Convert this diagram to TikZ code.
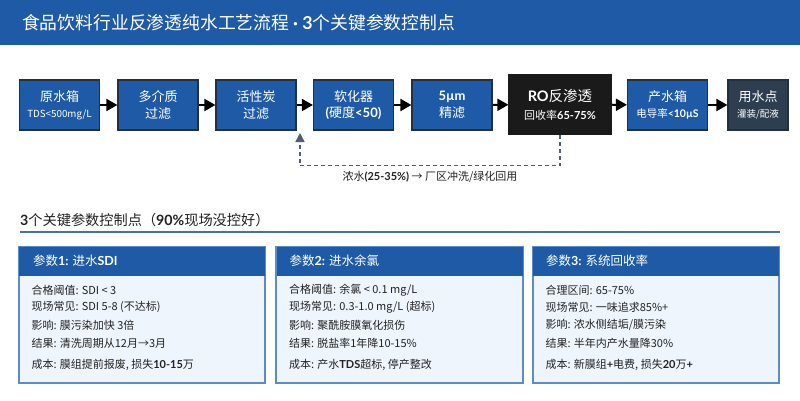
\documentclass[tikz,border=0pt]{standalone}
\usepackage{fontspec}
\setmainfont{Noto Sans CJK SC}
\newfontfamily\latinb{Lato}
\usetikzlibrary{arrows.meta,calc}
\definecolor{mainblue}{HTML}{1F5AA6}
\definecolor{boxedge}{HTML}{22303F}
\definecolor{rodark}{HTML}{1A1A1A}
\definecolor{useslate}{HTML}{2C3E50}
\definecolor{rejgray}{HTML}{4F5F6F}
\definecolor{cardedge}{HTML}{5A8BCB}
\definecolor{cardfill}{HTML}{EEF5FD}
\definecolor{inktxt}{HTML}{222222}
\newcommand{\latbf}[1]{{\latinb\bfseries #1}}
\newcommand{\fsz}[1]{\fontsize{#1}{#1}\selectfont}

\begin{document}
\begin{tikzpicture}[x=1pt,y=-1pt,
    stepbox/.style={draw=boxedge, line width=1.2pt, fill=mainblue, text=white, minimum width=80pt,
      minimum height=50pt, inner sep=0pt, align=center, font=\fontsize{13}{16.5}\selectfont},
    flow/.style={-{Triangle[length=11pt,width=12pt]}, line width=2pt, black},
    reject/.style={-{Triangle[length=9pt,width=9pt]}, line width=1.5pt, rejgray, dash pattern={on 4pt off 3pt}},
    card/.style={draw=cardedge, line width=1.4pt, fill=cardfill, minimum width=246pt, minimum height=136pt, inner sep=0pt},
    cardhead/.style={fill=mainblue, minimum width=246pt, minimum height=29pt, inner sep=0pt, anchor=north},
    headtxt/.style={anchor=west, text=white, inner sep=0pt, font=\fsz{12.5}},
    linetxt/.style={anchor=west, text=inktxt, inner sep=0pt, font=\fsz{11}}]
    \useasboundingbox (0,0) rectangle (800,400);
    \fill[white] (0,0) rectangle (800,400);
    % title band
    \fill[mainblue] (0,0) rectangle (800,45);
    \node[anchor=west, text=white, inner sep=0pt, font=\fsz{17.8}] (title) at (22,23) {食品饮料行业反渗透纯水工艺流程 \latbf{· 3}个关键参数控制点};
    % process chain
    \node[stepbox] (tank) at (59.5,105) {原水箱\\{\fsz{9.8}TDS<500mg/L}};
    \node[stepbox] (media) at (158,105) {多介质\\过滤};
    \node[stepbox] (carbon) at (256,105) {活性炭\\过滤};
    \node[stepbox] (soft) at (353.5,105) {软化器\\\latbf{(}硬度\latbf{<50)}};
    \node[stepbox] (fine) at (452,105) {\latbf{5µm}\\精滤};
    \node[stepbox, fill=rodark, draw=rodark, minimum width=102pt, minimum height=59pt, font=\fontsize{14.5}{18}\selectfont] (ro) at (560,104.5) {\latbf{RO}反渗透\\{\fsz{11}回收率\latbf{65-75\%}}};
    \node[stepbox] (prod) at (667.5,105) {产水箱\\{\fsz{10.5}电导率\latbf{<10µS}}};
    \node[stepbox, fill=useslate, minimum width=60pt] (use) at (758,105) {用水点\\{\fsz{9.5}灌装/配液}};
    \draw[flow] (tank) -- (media);
    \draw[flow] (media) -- (carbon);
    \draw[flow] (carbon) -- (soft);
    \draw[flow] (soft) -- (fine);
    \draw[flow] (fine) -- (ro);
    \draw[flow] (ro) -- (prod);
    \draw[flow] (prod) -- (use);
    % concentrate return
    \coordinate (ret) at (300,133);
    \draw[reject] (ro.south) -- ++(0,31) -| (ret);
    \node[text=inktxt, inner sep=0pt, font=\fsz{11}] (waste) at (430,177) {浓水\latbf{(25-35\%)} → 厂区冲洗/绿化回用};
    % section heading
    \node[anchor=west, text=inktxt, inner sep=0pt, font=\fsz{14.2}] (sect) at (20,220) {\latbf{3}个关键参数控制点（\latbf{90\%}现场没控好）};
    \draw[mainblue!85!white, line width=1.6pt] (20,232) -- (780,232);
    % parameter cards
    \node[card] (c1) at (142,315) {};
    \node[card] (c2) at (399.5,315) {};
    \node[card] (c3) at (656,315) {};
    \foreach \c in {c1,c2,c3} {
        \node[cardhead] (\c h) at (\c.north) {};
        \draw[cardedge, line width=1.4pt] (\c.north west) rectangle (\c.south east);
    }
    \node[headtxt] (c1t) at ($(c1h.west)+(14,0)$) {参数\latbf{1: }进水\latbf{SDI}};
    \node[headtxt] (c2t) at ($(c2h.west)+(13,0)$) {参数\latbf{2: }进水余氯};
    \node[headtxt] (c3t) at ($(c3h.west)+(13,0)$) {参数\latbf{3: }系统回收率};
    \foreach \ln/\txt in {44/{合格阈值: SDI < 3}, 61/{现场常见: SDI 5-8 (不达标)}, 79/{影响: 膜污染加快 3倍},
        97/{结果: 清洗周期从12月→3月}, 119/{成本: 膜组提前报废, 损失\latbf{10-15}万}}
        \node[linetxt] (c1-\ln) at ($(c1.north west)+(13,\ln)$) {\txt};
    \foreach \ln/\txt in {44/{合格阈值: 余氯 < 0.1 mg/L}, 61/{现场常见: 0.3-1.0 mg/L (超标)}, 79/{影响: 聚酰胺膜氧化损伤},
        97/{结果: 脱盐率1年降10-15\%}, 119/{成本: 产水\latbf{TDS}超标, 停产整改}}
        \node[linetxt] (c2-\ln) at ($(c2.north west)+(13,\ln)$) {\txt};
    \foreach \ln/\txt in {44/{合理区间: 65-75\%}, 61/{现场常见: 一味追求85\%+}, 79/{影响: 浓水侧结垢/膜污染},
        97/{结果: 半年内产水量降30\%}, 119/{成本: 新膜组\latbf{+}电费, 损失\latbf{20}万\latbf{+}}}
        \node[linetxt] (c3-\ln) at ($(c3.north west)+(13,\ln)$) {\txt};
\end{tikzpicture}
\end{document}
